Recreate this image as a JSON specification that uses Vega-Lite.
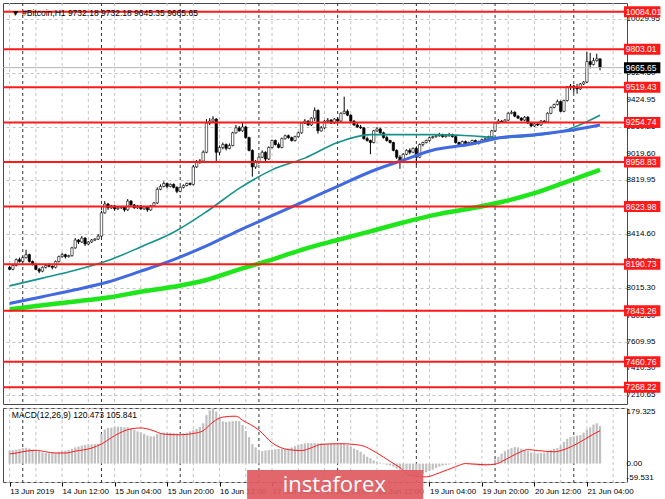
{
  "$schema": "https://vega.github.io/schema/vega-lite/v6.json",
  "background": "white",
  "padding": {"top": 2, "left": 1, "right": 0, "bottom": 0},
  "spacing": 2,
  "config": {
    "view": {"stroke": "#4a4a4a", "strokeWidth": 1},
    "axis": {"labelFont": "Liberation Sans", "labelFontSize": 8, "labelColor": "#000000", "tickColor": "#000000"},
    "text": {"font": "Liberation Sans"}
  },
  "datasets": {
    "c": [
      {"t":"2019-06-13T20:00","o":8168,"h":8180,"l":8146,"c":8153,"m":42},
      {"t":"2019-06-13T21:00","o":8153,"h":8190,"l":8146,"c":8182,"m":44},
      {"t":"2019-06-13T22:00","o":8182,"h":8234,"l":8175,"c":8226,"m":45},
      {"t":"2019-06-13T23:00","o":8226,"h":8241,"l":8204,"c":8212,"m":47},
      {"t":"2019-06-14T00:00","o":8212,"h":8250,"l":8204,"c":8241,"m":50},
      {"t":"2019-06-14T01:00","o":8241,"h":8300,"l":8234,"c":8263,"m":51},
      {"t":"2019-06-14T02:00","o":8263,"h":8270,"l":8204,"c":8212,"m":49},
      {"t":"2019-06-14T03:00","o":8212,"h":8219,"l":8182,"c":8190,"m":45},
      {"t":"2019-06-14T04:00","o":8190,"h":8197,"l":8146,"c":8153,"m":43},
      {"t":"2019-06-14T05:00","o":8153,"h":8165,"l":8124,"c":8139,"m":40},
      {"t":"2019-06-14T06:00","o":8139,"h":8175,"l":8131,"c":8168,"m":36},
      {"t":"2019-06-14T07:00","o":8168,"h":8190,"l":8160,"c":8182,"m":34},
      {"t":"2019-06-14T08:00","o":8182,"h":8197,"l":8168,"c":8176,"m":33},
      {"t":"2019-06-14T09:00","o":8176,"h":8182,"l":8153,"c":8168,"m":34},
      {"t":"2019-06-14T10:00","o":8168,"h":8219,"l":8160,"c":8212,"m":35},
      {"t":"2019-06-14T11:00","o":8212,"h":8256,"l":8204,"c":8248,"m":38},
      {"t":"2019-06-14T12:00","o":8248,"h":8278,"l":8241,"c":8263,"m":40},
      {"t":"2019-06-14T13:00","o":8263,"h":8270,"l":8234,"c":8248,"m":42},
      {"t":"2019-06-14T14:00","o":8248,"h":8263,"l":8241,"c":8256,"m":44},
      {"t":"2019-06-14T15:00","o":8256,"h":8322,"l":8248,"c":8314,"m":48},
      {"t":"2019-06-14T16:00","o":8314,"h":8387,"l":8307,"c":8373,"m":52},
      {"t":"2019-06-14T17:00","o":8373,"h":8380,"l":8343,"c":8358,"m":55},
      {"t":"2019-06-14T18:00","o":8358,"h":8402,"l":8351,"c":8387,"m":58},
      {"t":"2019-06-14T19:00","o":8387,"h":8394,"l":8329,"c":8343,"m":60},
      {"t":"2019-06-14T20:00","o":8343,"h":8365,"l":8336,"c":8358,"m":62},
      {"t":"2019-06-14T21:00","o":8358,"h":8380,"l":8351,"c":8373,"m":62},
      {"t":"2019-06-14T22:00","o":8373,"h":8387,"l":8365,"c":8380,"m":63},
      {"t":"2019-06-14T23:00","o":8380,"h":8416,"l":8373,"c":8402,"m":64},
      {"t":"2019-06-15T00:00","o":8402,"h":8592,"l":8394,"c":8577,"m":96},
      {"t":"2019-06-15T01:00","o":8577,"h":8665,"l":8570,"c":8643,"m":110},
      {"t":"2019-06-15T02:00","o":8643,"h":8651,"l":8599,"c":8614,"m":115},
      {"t":"2019-06-15T03:00","o":8614,"h":8636,"l":8607,"c":8629,"m":116},
      {"t":"2019-06-15T04:00","o":8629,"h":8636,"l":8592,"c":8607,"m":118},
      {"t":"2019-06-15T05:00","o":8607,"h":8621,"l":8599,"c":8614,"m":119},
      {"t":"2019-06-15T06:00","o":8614,"h":8629,"l":8607,"c":8621,"m":118},
      {"t":"2019-06-15T07:00","o":8621,"h":8629,"l":8585,"c":8599,"m":117},
      {"t":"2019-06-15T08:00","o":8599,"h":8680,"l":8592,"c":8665,"m":117},
      {"t":"2019-06-15T09:00","o":8665,"h":8672,"l":8629,"c":8636,"m":112},
      {"t":"2019-06-15T10:00","o":8636,"h":8643,"l":8607,"c":8614,"m":108},
      {"t":"2019-06-15T11:00","o":8614,"h":8636,"l":8607,"c":8629,"m":104},
      {"t":"2019-06-15T12:00","o":8629,"h":8636,"l":8599,"c":8607,"m":100},
      {"t":"2019-06-15T13:00","o":8607,"h":8629,"l":8599,"c":8621,"m":96},
      {"t":"2019-06-15T14:00","o":8621,"h":8629,"l":8585,"c":8599,"m":90},
      {"t":"2019-06-15T15:00","o":8599,"h":8636,"l":8592,"c":8629,"m":88},
      {"t":"2019-06-15T16:00","o":8629,"h":8658,"l":8621,"c":8651,"m":88},
      {"t":"2019-06-15T17:00","o":8651,"h":8768,"l":8643,"c":8753,"m":95},
      {"t":"2019-06-15T18:00","o":8753,"h":8790,"l":8746,"c":8775,"m":98},
      {"t":"2019-06-15T19:00","o":8775,"h":8812,"l":8768,"c":8797,"m":100},
      {"t":"2019-06-15T20:00","o":8797,"h":8804,"l":8760,"c":8775,"m":100},
      {"t":"2019-06-15T21:00","o":8775,"h":8797,"l":8768,"c":8790,"m":100},
      {"t":"2019-06-15T22:00","o":8790,"h":8797,"l":8760,"c":8768,"m":99},
      {"t":"2019-06-15T23:00","o":8768,"h":8775,"l":8724,"c":8738,"m":97},
      {"t":"2019-06-16T00:00","o":8738,"h":8775,"l":8731,"c":8768,"m":97},
      {"t":"2019-06-16T01:00","o":8768,"h":8790,"l":8760,"c":8782,"m":98},
      {"t":"2019-06-16T02:00","o":8782,"h":8804,"l":8775,"c":8797,"m":100},
      {"t":"2019-06-16T03:00","o":8797,"h":8804,"l":8782,"c":8790,"m":104},
      {"t":"2019-06-16T04:00","o":8790,"h":8936,"l":8782,"c":8921,"m":108},
      {"t":"2019-06-16T05:00","o":8921,"h":8973,"l":8914,"c":8958,"m":112},
      {"t":"2019-06-16T06:00","o":8958,"h":8980,"l":8944,"c":8965,"m":118},
      {"t":"2019-06-16T07:00","o":8965,"h":9045,"l":8958,"c":9031,"m":130},
      {"t":"2019-06-16T08:00","o":9031,"h":9280,"l":9024,"c":9250,"m":156},
      {"t":"2019-06-16T09:00","o":9250,"h":9287,"l":9236,"c":9265,"m":172},
      {"t":"2019-06-16T10:00","o":9265,"h":9302,"l":9250,"c":9280,"m":179},
      {"t":"2019-06-16T11:00","o":9280,"h":9287,"l":8958,"c":9031,"m":168},
      {"t":"2019-06-16T12:00","o":9031,"h":9082,"l":9009,"c":9067,"m":150},
      {"t":"2019-06-16T13:00","o":9067,"h":9104,"l":9053,"c":9089,"m":136},
      {"t":"2019-06-16T14:00","o":9089,"h":9097,"l":9045,"c":9060,"m":134},
      {"t":"2019-06-16T15:00","o":9060,"h":9097,"l":9053,"c":9082,"m":136},
      {"t":"2019-06-16T16:00","o":9082,"h":9185,"l":9075,"c":9177,"m":137},
      {"t":"2019-06-16T17:00","o":9177,"h":9236,"l":9170,"c":9214,"m":138},
      {"t":"2019-06-16T18:00","o":9214,"h":9228,"l":9185,"c":9192,"m":137},
      {"t":"2019-06-16T19:00","o":9192,"h":9258,"l":9185,"c":9221,"m":125},
      {"t":"2019-06-16T20:00","o":9221,"h":9228,"l":9133,"c":9141,"m":105},
      {"t":"2019-06-16T21:00","o":9141,"h":9148,"l":9038,"c":9045,"m":85},
      {"t":"2019-06-16T22:00","o":9045,"h":9053,"l":8848,"c":8921,"m":63},
      {"t":"2019-06-16T23:00","o":8921,"h":8973,"l":8907,"c":8958,"m":52},
      {"t":"2019-06-17T00:00","o":8958,"h":9002,"l":8944,"c":8994,"m":44},
      {"t":"2019-06-17T01:00","o":8994,"h":9045,"l":8987,"c":9031,"m":40},
      {"t":"2019-06-17T02:00","o":9031,"h":9038,"l":8965,"c":8980,"m":42},
      {"t":"2019-06-17T03:00","o":8980,"h":9075,"l":8973,"c":9067,"m":44},
      {"t":"2019-06-17T04:00","o":9067,"h":9126,"l":9060,"c":9119,"m":45},
      {"t":"2019-06-17T05:00","o":9119,"h":9126,"l":9082,"c":9089,"m":46},
      {"t":"2019-06-17T06:00","o":9089,"h":9104,"l":9060,"c":9067,"m":47},
      {"t":"2019-06-17T07:00","o":9067,"h":9141,"l":9060,"c":9133,"m":48},
      {"t":"2019-06-17T08:00","o":9133,"h":9163,"l":9126,"c":9155,"m":48},
      {"t":"2019-06-17T09:00","o":9155,"h":9163,"l":9133,"c":9141,"m":49},
      {"t":"2019-06-17T10:00","o":9141,"h":9148,"l":9111,"c":9119,"m":52},
      {"t":"2019-06-17T11:00","o":9119,"h":9155,"l":9111,"c":9148,"m":56},
      {"t":"2019-06-17T12:00","o":9148,"h":9185,"l":9141,"c":9177,"m":60},
      {"t":"2019-06-17T13:00","o":9177,"h":9258,"l":9170,"c":9250,"m":63},
      {"t":"2019-06-17T14:00","o":9250,"h":9280,"l":9243,"c":9265,"m":65},
      {"t":"2019-06-17T15:00","o":9265,"h":9272,"l":9228,"c":9236,"m":66},
      {"t":"2019-06-17T16:00","o":9236,"h":9294,"l":9228,"c":9287,"m":66},
      {"t":"2019-06-17T17:00","o":9287,"h":9367,"l":9265,"c":9345,"m":66},
      {"t":"2019-06-17T18:00","o":9345,"h":9352,"l":9170,"c":9192,"m":65},
      {"t":"2019-06-17T19:00","o":9192,"h":9228,"l":9185,"c":9214,"m":65},
      {"t":"2019-06-17T20:00","o":9214,"h":9272,"l":9206,"c":9265,"m":64},
      {"t":"2019-06-17T21:00","o":9265,"h":9287,"l":9258,"c":9272,"m":64},
      {"t":"2019-06-17T22:00","o":9272,"h":9280,"l":9243,"c":9250,"m":65},
      {"t":"2019-06-17T23:00","o":9250,"h":9287,"l":9243,"c":9280,"m":65},
      {"t":"2019-06-18T00:00","o":9280,"h":9294,"l":9258,"c":9265,"m":64},
      {"t":"2019-06-18T01:00","o":9265,"h":9331,"l":9258,"c":9323,"m":64},
      {"t":"2019-06-18T02:00","o":9323,"h":9448,"l":9316,"c":9338,"m":63},
      {"t":"2019-06-18T03:00","o":9338,"h":9352,"l":9302,"c":9309,"m":60},
      {"t":"2019-06-18T04:00","o":9309,"h":9316,"l":9258,"c":9265,"m":55},
      {"t":"2019-06-18T05:00","o":9265,"h":9272,"l":9228,"c":9236,"m":48},
      {"t":"2019-06-18T06:00","o":9236,"h":9250,"l":9214,"c":9221,"m":44},
      {"t":"2019-06-18T07:00","o":9221,"h":9236,"l":9206,"c":9214,"m":38},
      {"t":"2019-06-18T08:00","o":9214,"h":9221,"l":9126,"c":9133,"m":30},
      {"t":"2019-06-18T09:00","o":9133,"h":9148,"l":9111,"c":9119,"m":22},
      {"t":"2019-06-18T10:00","o":9119,"h":9126,"l":9016,"c":9104,"m":17},
      {"t":"2019-06-18T11:00","o":9104,"h":9199,"l":9097,"c":9192,"m":10},
      {"t":"2019-06-18T12:00","o":9192,"h":9221,"l":9185,"c":9206,"m":6},
      {"t":"2019-06-18T13:00","o":9206,"h":9214,"l":9170,"c":9177,"m":3},
      {"t":"2019-06-18T14:00","o":9177,"h":9185,"l":9133,"c":9141,"m":-2},
      {"t":"2019-06-18T15:00","o":9141,"h":9155,"l":9111,"c":9119,"m":-4},
      {"t":"2019-06-18T16:00","o":9119,"h":9126,"l":9097,"c":9104,"m":-6},
      {"t":"2019-06-18T17:00","o":9104,"h":9111,"l":9038,"c":9045,"m":-10},
      {"t":"2019-06-18T18:00","o":9045,"h":9053,"l":8980,"c":8994,"m":-16},
      {"t":"2019-06-18T19:00","o":8994,"h":9009,"l":8907,"c":8972,"m":-20},
      {"t":"2019-06-18T20:00","o":8972,"h":9024,"l":8958,"c":9016,"m":-24},
      {"t":"2019-06-18T21:00","o":9016,"h":9053,"l":9009,"c":9045,"m":-27},
      {"t":"2019-06-18T22:00","o":9045,"h":9060,"l":9016,"c":9031,"m":-30},
      {"t":"2019-06-18T23:00","o":9031,"h":9067,"l":9024,"c":9060,"m":-33},
      {"t":"2019-06-19T00:00","o":9060,"h":9075,"l":8936,"c":8994,"m":-36},
      {"t":"2019-06-19T01:00","o":8994,"h":9097,"l":8987,"c":9089,"m":-37},
      {"t":"2019-06-19T02:00","o":9089,"h":9111,"l":9075,"c":9104,"m":-33},
      {"t":"2019-06-19T03:00","o":9104,"h":9126,"l":9097,"c":9119,"m":-28},
      {"t":"2019-06-19T04:00","o":9119,"h":9148,"l":9111,"c":9141,"m":-24},
      {"t":"2019-06-19T05:00","o":9141,"h":9155,"l":9133,"c":9148,"m":-20},
      {"t":"2019-06-19T06:00","o":9148,"h":9163,"l":9141,"c":9155,"m":-14},
      {"t":"2019-06-19T07:00","o":9155,"h":9177,"l":9148,"c":9163,"m":-10},
      {"t":"2019-06-19T08:00","o":9163,"h":9170,"l":9141,"c":9148,"m":-7},
      {"t":"2019-06-19T09:00","o":9148,"h":9163,"l":9141,"c":9155,"m":-5},
      {"t":"2019-06-19T10:00","o":9155,"h":9177,"l":9148,"c":9163,"m":-3},
      {"t":"2019-06-19T11:00","o":9163,"h":9170,"l":9141,"c":9148,"m":-1},
      {"t":"2019-06-19T12:00","o":9148,"h":9155,"l":9097,"c":9104,"m":0},
      {"t":"2019-06-19T13:00","o":9104,"h":9111,"l":9082,"c":9089,"m":1},
      {"t":"2019-06-19T14:00","o":9089,"h":9119,"l":9082,"c":9111,"m":0},
      {"t":"2019-06-19T15:00","o":9111,"h":9119,"l":9089,"c":9097,"m":-1},
      {"t":"2019-06-19T16:00","o":9097,"h":9111,"l":9089,"c":9104,"m":-2},
      {"t":"2019-06-19T17:00","o":9104,"h":9126,"l":9097,"c":9119,"m":-3},
      {"t":"2019-06-19T18:00","o":9119,"h":9126,"l":9089,"c":9097,"m":-5},
      {"t":"2019-06-19T19:00","o":9097,"h":9119,"l":9089,"c":9111,"m":-7},
      {"t":"2019-06-19T20:00","o":9111,"h":9133,"l":9104,"c":9126,"m":-8},
      {"t":"2019-06-19T21:00","o":9126,"h":9141,"l":9119,"c":9133,"m":-6},
      {"t":"2019-06-19T22:00","o":9133,"h":9155,"l":9126,"c":9148,"m":-3},
      {"t":"2019-06-19T23:00","o":9148,"h":9199,"l":9141,"c":9192,"m":-1},
      {"t":"2019-06-20T00:00","o":9192,"h":9258,"l":9185,"c":9250,"m":13},
      {"t":"2019-06-20T01:00","o":9250,"h":9280,"l":9243,"c":9265,"m":22},
      {"t":"2019-06-20T02:00","o":9265,"h":9272,"l":9250,"c":9258,"m":32},
      {"t":"2019-06-20T03:00","o":9258,"h":9280,"l":9250,"c":9272,"m":40},
      {"t":"2019-06-20T04:00","o":9272,"h":9331,"l":9265,"c":9323,"m":46},
      {"t":"2019-06-20T05:00","o":9323,"h":9345,"l":9316,"c":9331,"m":50},
      {"t":"2019-06-20T06:00","o":9331,"h":9338,"l":9294,"c":9302,"m":53},
      {"t":"2019-06-20T07:00","o":9302,"h":9309,"l":9280,"c":9287,"m":52},
      {"t":"2019-06-20T08:00","o":9287,"h":9294,"l":9265,"c":9272,"m":48},
      {"t":"2019-06-20T09:00","o":9272,"h":9302,"l":9265,"c":9294,"m":44},
      {"t":"2019-06-20T10:00","o":9294,"h":9302,"l":9243,"c":9250,"m":40},
      {"t":"2019-06-20T11:00","o":9250,"h":9258,"l":9221,"c":9228,"m":36},
      {"t":"2019-06-20T12:00","o":9228,"h":9250,"l":9221,"c":9243,"m":34},
      {"t":"2019-06-20T13:00","o":9243,"h":9250,"l":9228,"c":9236,"m":33},
      {"t":"2019-06-20T14:00","o":9236,"h":9272,"l":9228,"c":9265,"m":34},
      {"t":"2019-06-20T15:00","o":9265,"h":9272,"l":9250,"c":9258,"m":35},
      {"t":"2019-06-20T16:00","o":9258,"h":9331,"l":9250,"c":9323,"m":38},
      {"t":"2019-06-20T17:00","o":9323,"h":9374,"l":9316,"c":9367,"m":44},
      {"t":"2019-06-20T18:00","o":9367,"h":9396,"l":9360,"c":9389,"m":48},
      {"t":"2019-06-20T19:00","o":9389,"h":9426,"l":9382,"c":9411,"m":50},
      {"t":"2019-06-20T20:00","o":9411,"h":9419,"l":9331,"c":9338,"m":58},
      {"t":"2019-06-20T21:00","o":9338,"h":9426,"l":9331,"c":9419,"m":70},
      {"t":"2019-06-20T22:00","o":9419,"h":9528,"l":9411,"c":9521,"m":80},
      {"t":"2019-06-20T23:00","o":9521,"h":9543,"l":9499,"c":9528,"m":86},
      {"t":"2019-06-21T00:00","o":9528,"h":9536,"l":9477,"c":9514,"m":88},
      {"t":"2019-06-21T01:00","o":9514,"h":9543,"l":9470,"c":9506,"m":90},
      {"t":"2019-06-21T02:00","o":9506,"h":9550,"l":9499,"c":9543,"m":92},
      {"t":"2019-06-21T03:00","o":9543,"h":9565,"l":9536,"c":9558,"m":100},
      {"t":"2019-06-21T04:00","o":9558,"h":9784,"l":9550,"c":9711,"m":110},
      {"t":"2019-06-21T05:00","o":9711,"h":9777,"l":9660,"c":9689,"m":117},
      {"t":"2019-06-21T06:00","o":9689,"h":9740,"l":9682,"c":9718,"m":126},
      {"t":"2019-06-21T07:00","o":9718,"h":9770,"l":9711,"c":9732.18,"m":130},
      {"t":"2019-06-21T08:00","o":9732.18,"h":9732.18,"l":9645.35,"c":9665.65,"m":120.473}
    ],
    "ma": [
      {"t":"2019-06-13T20:00","a":8029,"b":7897,"g":7853},
      {"t":"2019-06-14T06:00","a":8087,"b":7948,"g":7883},
      {"t":"2019-06-14T16:00","a":8146,"b":8000,"g":7912},
      {"t":"2019-06-15T02:00","a":8219,"b":8058,"g":7941},
      {"t":"2019-06-15T12:00","a":8321,"b":8139,"g":7985},
      {"t":"2019-06-15T22:00","a":8431,"b":8226,"g":8022},
      {"t":"2019-06-16T08:00","a":8585,"b":8329,"g":8073},
      {"t":"2019-06-16T18:00","a":8760,"b":8446,"g":8153},
      {"t":"2019-06-17T04:00","a":8899,"b":8555,"g":8226},
      {"t":"2019-06-17T14:00","a":8987,"b":8665,"g":8307},
      {"t":"2019-06-18T00:00","a":9104,"b":8775,"g":8373},
      {"t":"2019-06-18T10:00","a":9163,"b":8885,"g":8438},
      {"t":"2019-06-18T20:00","a":9163,"b":8972,"g":8504},
      {"t":"2019-06-19T06:00","a":9163,"b":9053,"g":8563},
      {"t":"2019-06-19T16:00","a":9155,"b":9089,"g":8607},
      {"t":"2019-06-20T02:00","a":9141,"b":9141,"g":8658},
      {"t":"2019-06-20T12:00","a":9155,"b":9163,"g":8724},
      {"t":"2019-06-20T22:00","a":9200,"b":9192,"g":8811},
      {"t":"2019-06-21T08:00","a":9309,"b":9236,"g":8899}
    ],
    "sig": [
      {"t":"2019-06-13T20:00","s":31},{"t":"2019-06-13T22:00","s":34},{"t":"2019-06-14T01:00","s":40},
      {"t":"2019-06-14T04:00","s":43},{"t":"2019-06-14T07:00","s":38},{"t":"2019-06-14T10:00","s":34},
      {"t":"2019-06-14T13:00","s":34},{"t":"2019-06-14T16:00","s":40},{"t":"2019-06-14T21:00","s":50},
      {"t":"2019-06-15T00:00","s":63},{"t":"2019-06-15T04:00","s":90},{"t":"2019-06-15T09:00","s":112},
      {"t":"2019-06-15T12:00","s":115},{"t":"2019-06-15T15:00","s":109},{"t":"2019-06-15T19:00","s":95},
      {"t":"2019-06-16T00:00","s":93},{"t":"2019-06-16T04:00","s":97},{"t":"2019-06-16T07:00","s":106},
      {"t":"2019-06-16T10:00","s":134},{"t":"2019-06-16T13:00","s":150},{"t":"2019-06-16T17:00","s":153},
      {"t":"2019-06-16T19:00","s":140},{"t":"2019-06-17T00:00","s":108},{"t":"2019-06-17T04:00","s":67},
      {"t":"2019-06-17T09:00","s":45},{"t":"2019-06-17T13:00","s":42},{"t":"2019-06-17T16:00","s":51},
      {"t":"2019-06-17T19:00","s":62},{"t":"2019-06-18T01:00","s":64},{"t":"2019-06-18T07:00","s":59},
      {"t":"2019-06-18T12:00","s":34},{"t":"2019-06-18T16:00","s":7},{"t":"2019-06-18T19:00","s":-13},
      {"t":"2019-06-18T22:00","s":-38},{"t":"2019-06-19T03:00","s":-43},{"t":"2019-06-19T07:00","s":-30},
      {"t":"2019-06-19T12:00","s":-10},{"t":"2019-06-19T15:00","s":0},{"t":"2019-06-19T21:00","s":-4},
      {"t":"2019-06-20T00:00","s":-2},{"t":"2019-06-20T03:00","s":12},{"t":"2019-06-20T07:00","s":34},
      {"t":"2019-06-20T10:00","s":45},{"t":"2019-06-20T13:00","s":42},{"t":"2019-06-20T18:00","s":38},
      {"t":"2019-06-20T21:00","s":45},{"t":"2019-06-21T01:00","s":64},{"t":"2019-06-21T06:00","s":95},
      {"t":"2019-06-21T08:00","s":105.841}
    ],
    "lv": [
      {"v":10084.01},{"v":9803.01},{"v":9519.43},{"v":9254.74},{"v":8958.83},
      {"v":8623.98},{"v":8190.73},{"v":7843.26},{"v":7460.76},{"v":7268.22}
    ],
    "yt": [
      {"v":10029.95},{"v":9624.6},{"v":9424.95},{"v":9219.25},{"v":9019.6},{"v":8819.95},{"v":8619.3},
      {"v":8414.6},{"v":8214.95},{"v":8015.3},{"v":7805.6},{"v":7609.95},{"v":7410.3},{"v":7210.65}
    ],
    "gl": [
      {"t":"2019-06-13T20:00"},
      {"t":"2019-06-14T00:00"},{"t":"2019-06-14T04:00"},{"t":"2019-06-14T12:00"},{"t":"2019-06-14T20:00"},
      {"t":"2019-06-15T00:00"},{"t":"2019-06-15T04:00"},{"t":"2019-06-15T12:00"},{"t":"2019-06-15T20:00"},
      {"t":"2019-06-16T00:00"},{"t":"2019-06-16T04:00"},{"t":"2019-06-16T12:00"},{"t":"2019-06-16T20:00"},
      {"t":"2019-06-17T00:00"},{"t":"2019-06-17T04:00"},{"t":"2019-06-17T12:00"},{"t":"2019-06-17T20:00"},
      {"t":"2019-06-18T00:00"},{"t":"2019-06-18T04:00"},{"t":"2019-06-18T12:00"},{"t":"2019-06-18T20:00"},
      {"t":"2019-06-19T00:00"},{"t":"2019-06-19T04:00"},{"t":"2019-06-19T12:00"},{"t":"2019-06-19T20:00"},
      {"t":"2019-06-20T00:00"},{"t":"2019-06-20T04:00"},{"t":"2019-06-20T12:00"},{"t":"2019-06-20T20:00"},
      {"t":"2019-06-21T00:00"},{"t":"2019-06-21T04:00"},{"t":"2019-06-21T12:00"}
    ]
  },
  "vconcat": [
    {
      "width": 624,
      "height": 401,
      "layer": [
        {
          "data": {"name": "gl"},
          "mark": {"type": "rule", "strokeDash": [3, 3], "strokeWidth": 1},
          "encoding": {
            "x": {"field": "t", "type": "temporal", "axis": null,
              "scale": {"domain": [{"year":2019,"month":6,"date":13,"hours":19,"minutes":30},{"year":2019,"month":6,"date":21,"hours":14,"minutes":42}], "nice": false}},
            "color": {"condition": {"test": "hours(datum.t) == 0", "value": "#333333"}, "value": "#c4c4c4"}
          }
        },
        {
          "data": {"name": "c"},
          "mark": {"type": "rule", "color": "#000000", "strokeWidth": 1, "clip": true},
          "encoding": {
            "x": {"field": "t", "type": "temporal", "axis": null},
            "y": {"field": "l", "type": "quantitative", "title": null,
              "scale": {"domain": [7180.5, 10113], "nice": false, "zero": false},
              "axis": {"orient": "right", "values": [10029.95, 9829.3, 9624.6, 9424.95, 9219.25, 9019.6, 8819.95, 8619.3, 8414.6, 8214.95, 8015.3, 7805.6, 7609.95, 7410.3, 7210.65],
                "labels": false, "ticks": false, "grid": true, "gridDash": [3, 3], "gridColor": "#c4c4c4", "domain": false}},
            "y2": {"field": "h"}
          }
        },
        {
          "data": {"name": "c"},
          "mark": {"type": "bar", "size": 2.4, "stroke": "#000000", "strokeWidth": 0.6, "clip": true},
          "encoding": {
            "x": {"field": "t", "type": "temporal", "axis": null},
            "y": {"field": "o", "type": "quantitative", "title": null},
            "y2": {"field": "c"},
            "fill": {"condition": {"test": "datum.c < datum.o", "value": "#000000"}, "value": "#ffffff"}
          }
        },
        {
          "data": {"name": "ma"},
          "mark": {"type": "line", "color": "#16918a", "strokeWidth": 1.6, "interpolate": "monotone", "clip": true},
          "encoding": {
            "x": {"field": "t", "type": "temporal", "axis": null},
            "y": {"field": "a", "type": "quantitative", "title": null}
          }
        },
        {
          "data": {"name": "ma"},
          "mark": {"type": "line", "color": "#4169e1", "strokeWidth": 3, "interpolate": "monotone", "clip": true},
          "encoding": {
            "x": {"field": "t", "type": "temporal", "axis": null},
            "y": {"field": "b", "type": "quantitative", "title": null}
          }
        },
        {
          "data": {"name": "ma"},
          "mark": {"type": "line", "color": "#1ee61a", "strokeWidth": 4.5, "interpolate": "monotone", "clip": true},
          "encoding": {
            "x": {"field": "t", "type": "temporal", "axis": null},
            "y": {"field": "g", "type": "quantitative", "title": null}
          }
        },
        {
          "data": {"values": [{"p": 9665.65}]},
          "mark": {"type": "rule", "color": "#b4b4b4", "strokeWidth": 1},
          "encoding": {
            "y": {"field": "p", "type": "quantitative", "title": null}
          }
        },
        {
          "data": {"name": "lv"},
          "mark": {"type": "rule", "color": "#ff1a1a", "strokeWidth": 2},
          "encoding": {
            "y": {"field": "v", "type": "quantitative", "title": null}
          }
        },
        {
          "data": {"name": "yt"},
          "mark": {"type": "text", "align": "left", "baseline": "middle", "color": "#000000", "fontSize": 8, "clip": false},
          "encoding": {
            "x": {"datum": {"year":2019,"month":6,"date":21,"hours":16,"minutes":6}, "type": "temporal", "axis": null},
            "y": {"field": "v", "type": "quantitative", "title": null},
            "text": {"field": "v", "type": "quantitative", "format": ".2f"}
          }
        },
        {
          "data": {"name": "lv"},
          "mark": {"type": "bar", "orient": "horizontal", "size": 11, "color": "#ff1a1a", "clip": false},
          "encoding": {
            "x": {"datum": {"year":2019,"month":6,"date":21,"hours":15,"minutes":18}, "type": "temporal", "axis": null},
            "x2": {"datum": {"year":2019,"month":6,"date":22,"hours":2,"minutes":24}},
            "y": {"field": "v", "type": "quantitative", "title": null}
          }
        },
        {
          "data": {"name": "lv"},
          "mark": {"type": "text", "align": "left", "baseline": "middle", "color": "#ffffff", "fontSize": 8.5, "clip": false},
          "encoding": {
            "x": {"datum": {"year":2019,"month":6,"date":21,"hours":15,"minutes":50}, "type": "temporal", "axis": null},
            "y": {"field": "v", "type": "quantitative", "title": null},
            "text": {"field": "v", "type": "quantitative", "format": ".2f"}
          }
        },
        {
          "data": {"values": [{"p": 9665.65}]},
          "mark": {"type": "bar", "orient": "horizontal", "size": 11, "color": "#000000", "clip": false},
          "encoding": {
            "x": {"datum": {"year":2019,"month":6,"date":21,"hours":15,"minutes":18}, "type": "temporal", "axis": null},
            "x2": {"datum": {"year":2019,"month":6,"date":22,"hours":2,"minutes":24}},
            "y": {"field": "p", "type": "quantitative", "title": null}
          }
        },
        {
          "data": {"values": [{"p": 9665.65}]},
          "mark": {"type": "text", "align": "left", "baseline": "middle", "color": "#ffffff", "fontSize": 8.5, "clip": false},
          "encoding": {
            "x": {"datum": {"year":2019,"month":6,"date":21,"hours":15,"minutes":50}, "type": "temporal", "axis": null},
            "y": {"field": "p", "type": "quantitative", "title": null},
            "text": {"field": "p", "type": "quantitative", "format": ".2f"}
          }
        },
        {
          "data": {"values": [{"label": "▼  #Bitcoin,H1  9732.18 9732.18 9645.35 9665.65"}]},
          "mark": {"type": "text", "align": "left", "baseline": "middle", "color": "#000000", "fontSize": 8.5},
          "encoding": {
            "x": {"datum": {"year":2019,"month":6,"date":13,"hours":20,"minutes":30}, "type": "temporal", "axis": null},
            "y": {"datum": 10072, "type": "quantitative", "title": null},
            "text": {"field": "label"}
          }
        }
      ]
    },
    {
      "width": 624,
      "height": 74,
      "layer": [
        {
          "data": {"name": "gl"},
          "mark": {"type": "rule", "strokeDash": [3, 3], "strokeWidth": 1},
          "encoding": {
            "x": {"field": "t", "type": "temporal", "title": null,
              "scale": {"domain": [{"year":2019,"month":6,"date":13,"hours":19,"minutes":30},{"year":2019,"month":6,"date":21,"hours":14,"minutes":42}], "nice": false},
              "axis": {"orient": "bottom", "domain": false, "grid": false, "tickSize": 4,
                "values": [
                  {"year":2019,"month":6,"date":13,"hours":20},{"year":2019,"month":6,"date":14,"hours":12},
                  {"year":2019,"month":6,"date":15,"hours":4},{"year":2019,"month":6,"date":15,"hours":20},
                  {"year":2019,"month":6,"date":16,"hours":12},{"year":2019,"month":6,"date":17,"hours":4},
                  {"year":2019,"month":6,"date":17,"hours":20},{"year":2019,"month":6,"date":18,"hours":12},
                  {"year":2019,"month":6,"date":19,"hours":4},{"year":2019,"month":6,"date":19,"hours":20},
                  {"year":2019,"month":6,"date":20,"hours":12},{"year":2019,"month":6,"date":21,"hours":4}],
                "labelExpr": "datum.index == 0 ? '13 Jun 2019' : timeFormat(datum.value, '%d %b %H:%M')",
                "labelAlign": "left", "labelOverlap": false, "labelFlush": false, "labelPadding": 1}},
            "color": {"condition": {"test": "hours(datum.t) == 0", "value": "#333333"}, "value": "#c4c4c4"}
          }
        },
        {
          "data": {"name": "c"},
          "mark": {"type": "bar", "color": "#c0c0c0", "size": 2.2, "clip": true},
          "encoding": {
            "x": {"field": "t", "type": "temporal", "title": null},
            "y": {"field": "m", "type": "quantitative", "title": null,
              "scale": {"domain": [-59.531, 179.325], "nice": false},
              "axis": {"orient": "right", "values": [179.325, 0, -59.531], "labels": false, "ticks": false,
                "grid": true, "gridDash": [3, 3], "gridColor": "#c4c4c4", "domain": false}}
          }
        },
        {
          "data": {"name": "sig"},
          "mark": {"type": "line", "color": "#ff1a1a", "strokeWidth": 1, "interpolate": "monotone", "clip": true},
          "encoding": {
            "x": {"field": "t", "type": "temporal", "title": null},
            "y": {"field": "s", "type": "quantitative", "title": null}
          }
        },
        {
          "data": {"values": [{"label": "179.325"}]},
          "mark": {"type": "text", "align": "left", "baseline": "top", "color": "#000000", "fontSize": 8, "clip": false},
          "encoding": {
            "x": {"datum": {"year":2019,"month":6,"date":21,"hours":16,"minutes":6}, "type": "temporal", "title": null},
            "y": {"datum": 179.325, "type": "quantitative", "title": null},
            "text": {"field": "label"}
          }
        },
        {
          "data": {"values": [{"label": "0.00"}]},
          "mark": {"type": "text", "align": "left", "baseline": "middle", "color": "#000000", "fontSize": 8, "clip": false},
          "encoding": {
            "x": {"datum": {"year":2019,"month":6,"date":21,"hours":16,"minutes":6}, "type": "temporal", "title": null},
            "y": {"datum": 0, "type": "quantitative", "title": null},
            "text": {"field": "label"}
          }
        },
        {
          "data": {"values": [{"label": "-59.531"}]},
          "mark": {"type": "text", "align": "left", "baseline": "bottom", "color": "#000000", "fontSize": 8, "clip": false},
          "encoding": {
            "x": {"datum": {"year":2019,"month":6,"date":21,"hours":16,"minutes":6}, "type": "temporal", "title": null},
            "y": {"datum": -59.531, "type": "quantitative", "title": null},
            "text": {"field": "label"}
          }
        },
        {
          "data": {"values": [{"label": "MACD(12,26,9) 120.473 105.841"}]},
          "mark": {"type": "text", "align": "left", "baseline": "middle", "color": "#000000", "fontSize": 8.5},
          "encoding": {
            "x": {"datum": {"year":2019,"month":6,"date":13,"hours":20,"minutes":40}, "type": "temporal", "title": null},
            "y": {"datum": 158, "type": "quantitative", "title": null},
            "text": {"field": "label"}
          }
        },
        {
          "data": {"values": [{"label": "instaforex"}]},
          "mark": {"type": "bar", "color": "#e05a60", "opacity": 0.92, "clip": false},
          "encoding": {
            "x": {"datum": {"year":2019,"month":6,"date":16,"hours":20,"minutes":24}, "type": "temporal", "title": null},
            "x2": {"datum": {"year":2019,"month":6,"date":19,"hours":2,"minutes":6}},
            "y": {"datum": -20.8, "type": "quantitative", "title": null},
            "y2": {"datum": -117.7}
          }
        },
        {
          "data": {"values": [{"label": "instaforex"}]},
          "mark": {"type": "text", "align": "center", "baseline": "middle", "color": "#ffffff", "fontSize": 22, "font": "Open Sans", "clip": false},
          "encoding": {
            "x": {"datum": {"year":2019,"month":6,"date":17,"hours":23}, "type": "temporal", "title": null},
            "y": {"datum": -70, "type": "quantitative", "title": null},
            "text": {"field": "label"}
          }
        }
      ]
    }
  ]
}
